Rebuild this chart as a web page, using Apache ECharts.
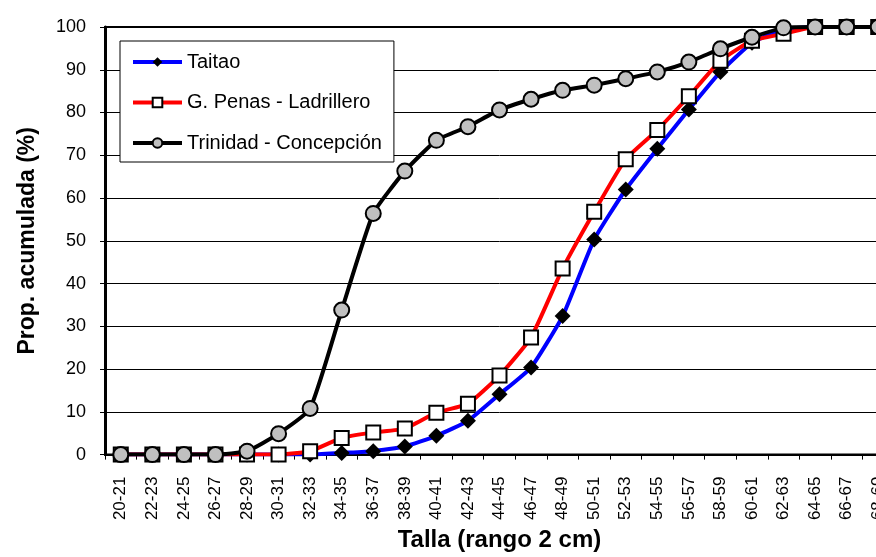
<!DOCTYPE html>
<html>
<head>
<meta charset="utf-8">
<script src="https://cdn.jsdelivr.net/npm/echarts@6/dist/echarts.min.js"></script>
<style>
  html, body { margin: 0; padding: 0; background: #fff; overflow: hidden; }
  /* plot area runs past the right edge of the window */
  #chart { width: 894px; height: 557px; }
</style>
</head>
<body>
<div id="chart"></div>
<script>
// Size classes (2 cm ranges)
const categories = [
  '20-21','22-23','24-25','26-27','28-29','30-31','32-33','34-35','36-37','38-39',
  '40-41','42-43','44-45','46-47','48-49','50-51','52-53','54-55','56-57','58-59',
  '60-61','62-63','64-65','66-67','68-69'
];

// Cumulative proportion (%) per zone
const taitao = [0, 0, 0, 0, 0, 0, 0, 0.4, 0.8, 1.9, 4.4, 7.9, 14.1, 20.4, 32.4, 50.3, 62.0, 71.5, 80.7, 89.5, 96.3, 99.5, 100, 100, 100];
const penasLadrillero = [0, 0, 0, 0, 0, 0, 0.8, 3.9, 5.2, 6.1, 9.8, 11.9, 18.5, 27.4, 43.5, 56.8, 69.1, 75.9, 83.8, 92.1, 96.8, 98.4, 100, 100, 100];
const trinidadConcepcion = [0, 0, 0, 0, 0.8, 4.9, 10.8, 33.8, 56.4, 66.3, 73.5, 76.7, 80.6, 83.1, 85.2, 86.4, 87.9, 89.5, 91.8, 94.9, 97.6, 99.8, 100, 100, 100];

const yTicks = { min: 0, max: 100, interval: 10 };

const FONT = "'Liberation Sans', Arial, sans-serif";

const chart = echarts.init(document.getElementById('chart'), null, { renderer: 'canvas' });

const option = {
  animation: false,
  backgroundColor: '#ffffff',
  textStyle: { fontFamily: FONT, color: '#000' },
  grid: {
    left: 105, top: 27, bottom: 99, right: 0,
    show: true, borderColor: '#000', borderWidth: 2, backgroundColor: 'transparent'
  },
  legend: {
    orient: 'vertical',
    left: 120, top: 41,
    padding: [11, 12, 9, 11],
    itemGap: 20.5,
    itemWidth: 49,
    itemHeight: 12,
    backgroundColor: '#fff',
    borderColor: '#000',
    borderWidth: 1,
    lineStyle: { width: 4 },
    textStyle: { fontFamily: FONT, fontSize: 20, color: '#000' },
    data: ['Taitao', 'G. Penas - Ladrillero', 'Trinidad - Concepción']
  },
  xAxis: {
    type: 'category',
    data: categories,
    boundaryGap: true,
    name: 'Talla (rango 2 cm)',
    nameLocation: 'middle',
    nameGap: 72,
    nameTextStyle: { fontFamily: FONT, fontSize: 24, fontWeight: 'bold', color: '#000' },
    axisLine: { lineStyle: { color: '#000', width: 2 } },
    axisTick: { show: true, length: 5, inside: false, alignWithLabel: false, lineStyle: { color: '#000', width: 1 } },
    axisLabel: { interval: 0, rotate: 90, margin: 22, fontFamily: FONT, fontSize: 17, color: '#000' },
    splitLine: { show: false }
  },
  yAxis: {
    type: 'value',
    min: yTicks.min, max: yTicks.max, interval: yTicks.interval,
    name: 'Prop. acumulada (%)',
    nameLocation: 'middle',
    nameGap: 66,
    nameTextStyle: { fontFamily: FONT, fontSize: 23, fontWeight: 'bold', color: '#000' },
    axisLine: { show: true, lineStyle: { color: '#000', width: 3 } },
    axisTick: { show: true, length: 5, lineStyle: { color: '#000', width: 1 } },
    axisLabel: { margin: 19, fontFamily: FONT, fontSize: 18, color: '#000' },
    splitLine: { show: true, lineStyle: { color: '#000', width: 1 } }
  },
  series: [
    {
      name: 'Taitao',
      type: 'line',
      data: taitao,
      smooth: 0.15,
      symbol: 'diamond',
      symbolSize: 16,
      showAllSymbol: true,
      lineStyle: { color: '#0000ff', width: 4 },
      itemStyle: { color: '#000', borderColor: '#000', borderWidth: 0 }
    },
    {
      name: 'G. Penas - Ladrillero',
      type: 'line',
      data: penasLadrillero,
      smooth: 0.15,
      symbol: 'rect',
      symbolSize: 14,
      showAllSymbol: true,
      lineStyle: { color: '#ff0000', width: 4 },
      itemStyle: { color: '#fff', borderColor: '#000', borderWidth: 2 }
    },
    {
      name: 'Trinidad - Concepción',
      type: 'line',
      data: trinidadConcepcion,
      smooth: 0.15,
      symbol: 'circle',
      symbolSize: 15,
      showAllSymbol: true,
      lineStyle: { color: '#000', width: 4 },
      itemStyle: { color: '#c0c0c0', borderColor: '#000', borderWidth: 2 }
    }
  ]
};

chart.setOption(option);
</script>
</body>
</html>
